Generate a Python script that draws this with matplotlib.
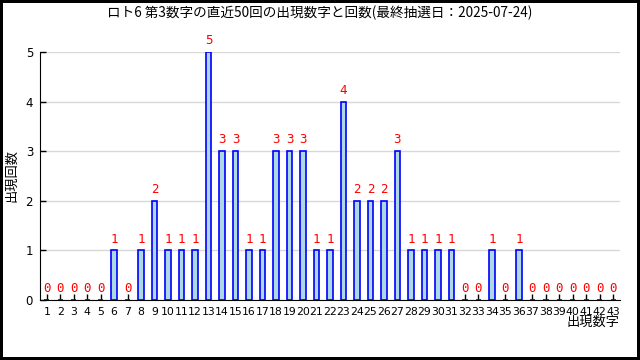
import matplotlib
matplotlib.use("Agg")
import matplotlib.pyplot as plt

plt.rcParams['font.family'] = ['Noto Sans CJK JP', 'DejaVu Sans']

# 出現数字 1..43 と直近50回の出現回数
numbers = list(range(1, 44))
counts = [0, 0, 0, 0, 0, 1, 0, 1, 2, 1,
          1, 1, 5, 3, 3, 1, 1, 3, 3, 3,
          1, 1, 4, 2, 2, 2, 3, 1, 1, 1,
          1, 0, 0, 1, 0, 1, 0, 0, 0, 0,
          0, 0, 0]
y_ticks = [0, 1, 2, 3, 4, 5]
title = "ロト6 第3数字の直近50回の出現数字と回数(最終抽選日：2025-07-24)"

fig = plt.figure(figsize=(6.4, 3.6), dpi=100, linewidth=3, edgecolor="black")
ax = fig.add_axes([0.0625, 0.1667, 0.90625, 0.689])

ax.bar(numbers, counts, width=0.4, color="#add8e6", edgecolor="blue",
       linewidth=1.2, zorder=3)
for n, c in zip(numbers, counts):
    ax.annotate(str(c), (n, c), xytext=(0, 3.5), textcoords="offset points",
                ha="center", va="bottom", color="red", fontsize=9,
                family="DejaVu Sans Mono")

ax.set_xlim(0.5, 43.5)
ax.set_ylim(0, 5)
ax.set_xticks(numbers)
ax.set_xticklabels([str(n) for n in numbers], fontsize=7.8, family="DejaVu Sans")
ax.set_yticks(y_ticks)
ax.set_yticklabels([str(v) for v in y_ticks], fontsize=8.5, family="DejaVu Sans")
ax.tick_params(axis="both", direction="in", length=4, width=1, pad=5)
ax.grid(axis="y", color="#d8d8d8", linewidth=1, zorder=0)
for s in ("top", "right"):
    ax.spines[s].set_visible(False)

ax.set_ylabel("出現回数", fontsize=9.5, labelpad=5)
ax.set_xlabel("出現数字", fontsize=9.5, loc="right", labelpad=-1)
fig.suptitle(title, fontsize=9.8, y=0.985)

fig.savefig("out.png", dpi=100)
